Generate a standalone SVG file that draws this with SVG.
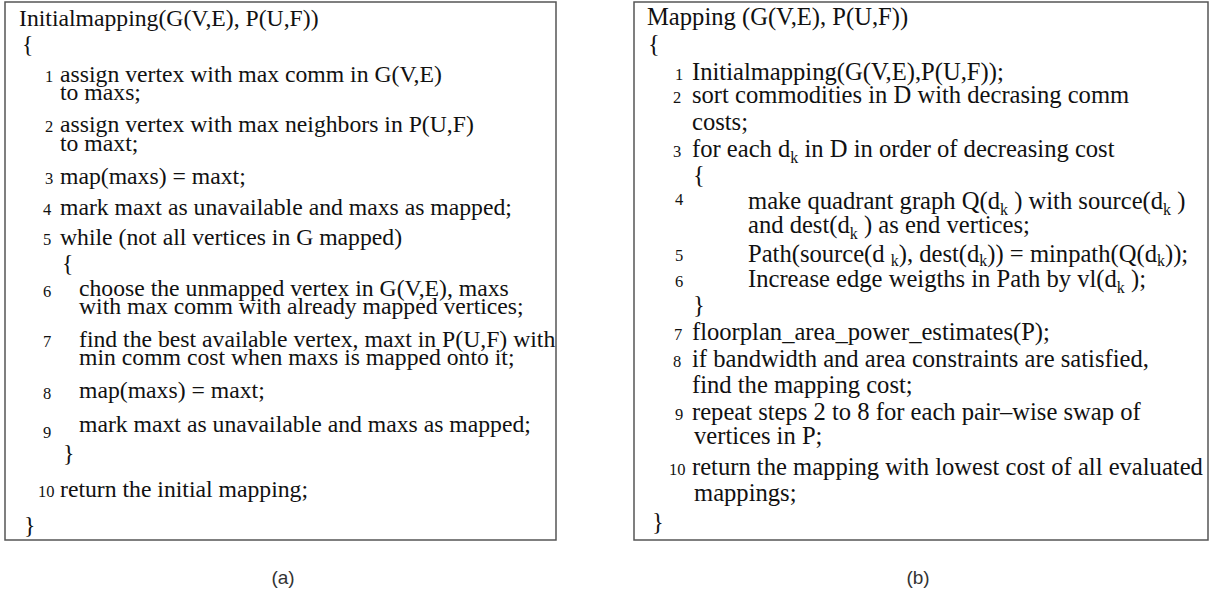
<svg xmlns="http://www.w3.org/2000/svg" width="1213" height="596" viewBox="0 0 1213 596">
<style>
.box{fill:#fff;stroke:#555;stroke-width:1.5}
.t{font-family:"Liberation Serif","Times New Roman",serif;font-size:23.7px;fill:#111}
.r{font-family:"Liberation Serif","Times New Roman",serif;font-size:24.6px;fill:#111}
.n{font-family:"Liberation Serif","Times New Roman",serif;font-size:16.5px;fill:#111}
.s{font-size:16px}
.cap{font-family:"Liberation Sans",Arial,sans-serif;font-size:19px;fill:#333;text-anchor:middle}
</style>
<rect width="1213" height="596" fill="#fff"/>
<g id="panel-a">
<rect class="box" x="5" y="2" width="551" height="538"/>
<text class="t" x="19" y="26">Initialmapping(G(V,E), P(U,F))</text>
<text class="t" x="22" y="52">{</text>
<text class="n" x="45" y="82">1</text><text class="t" x="60" y="82">assign vertex with max comm in G(V,E)<tspan x="60" y="100">to maxs;</tspan></text>
<text class="n" x="45" y="132">2</text><text class="t" x="60" y="132">assign vertex with max neighbors in P(U,F)<tspan x="60" y="151">to maxt;</tspan></text>
<text class="n" x="45" y="184">3</text><text class="t" x="60" y="184">map(maxs) = maxt;</text>
<text class="n" x="43" y="215">4</text><text class="t" x="60" y="215">mark maxt as unavailable and maxs as mapped;</text>
<text class="n" x="43" y="245">5</text><text class="t" x="60" y="245">while (not all vertices in G mapped)</text>
<text class="t" x="62" y="271">{</text>
<text class="n" x="43" y="297">6</text><text class="t" x="79" y="296">choose the unmapped vertex in G(V,E), maxs<tspan x="79" y="314">with max comm with already mapped vertices;</tspan></text>
<text class="n" x="43" y="347">7</text><text class="t" x="79" y="347">find the best available vertex, maxt in P(U,F) with<tspan x="79" y="365">min comm cost when maxs is mapped onto it;</tspan></text>
<text class="n" x="43" y="399">8</text><text class="t" x="79" y="398">map(maxs) = maxt;</text>
<text class="n" x="43" y="438">9</text><text class="t" x="79" y="432">mark maxt as unavailable and maxs as mapped;</text>
<text class="t" x="63" y="461">}</text>
<text class="n" x="38" y="497">10</text><text class="t" x="60" y="497">return the initial mapping;</text>
<text class="t" x="24" y="533">}</text>
</g>
<g id="panel-b">
<rect class="box" x="634" y="2" width="574" height="538"/>
<text class="r" x="647" y="25">Mapping (G(V,E), P(U,F))</text>
<text class="r" x="648" y="52">{</text>
<text class="n" x="675" y="80">1</text><text class="r" x="692" y="80">Initialmapping(G(V,E),P(U,F));</text>
<text class="n" x="673" y="103">2</text><text class="r" x="692" y="103">sort commodities in D with decrasing comm<tspan x="692" y="130">costs;</tspan></text>
<text class="n" x="673" y="157">3</text><text class="r" x="692" y="157">for each d<tspan class="s" dy="6">k</tspan><tspan dy="-6"> in D in order of decreasing cost</tspan></text>
<text class="r" x="693" y="183">{</text>
<text class="n" x="675" y="205">4</text><text class="r" x="748" y="209">make quadrant graph Q(d<tspan class="s" dy="6">k</tspan><tspan dy="-6"> ) with source(d</tspan><tspan class="s" dy="6">k</tspan><tspan dy="-6"> )</tspan><tspan x="748" y="233">and dest(d</tspan><tspan class="s" dy="6">k</tspan><tspan dy="-6"> ) as end vertices;</tspan></text>
<text class="n" x="675" y="261">5</text><text class="r" x="748" y="262">Path(source(d <tspan class="s" dy="4">k</tspan><tspan dy="-4">), dest(d</tspan><tspan class="s" dy="4">k</tspan><tspan dy="-4">)) = minpath(Q(d</tspan><tspan class="s" dy="4">k</tspan><tspan dy="-4">));</tspan></text>
<text class="n" x="675" y="287">6</text><text class="r" x="748" y="287">Increase edge weigths in Path by vl(d<tspan class="s" dy="6">k</tspan><tspan dy="-6"> );</tspan></text>
<text class="r" x="693" y="313">}</text>
<text class="n" x="674" y="340">7</text><text class="r" x="692" y="340">floorplan_area_power_estimates(P);</text>
<text class="n" x="673" y="367">8</text><text class="r" x="692" y="367">if bandwidth and area constraints are satisfied,<tspan x="692" y="393">find the mapping cost;</tspan></text>
<text class="n" x="675" y="420">9</text><text class="r" x="692" y="420">repeat steps 2 to 8 for each pair–wise swap of<tspan x="694" y="444">vertices in P;</tspan></text>
<text class="n" x="669" y="475">10</text><text class="r" x="692" y="475">return the mapping with lowest cost of all evaluated<tspan x="694" y="501">mappings;</tspan></text>
<text class="r" x="652" y="530">}</text>
</g>
<g id="captions">
<text class="cap" x="283" y="584">(a)</text>
<text class="cap" x="918" y="584">(b)</text>
</g>
</svg>
